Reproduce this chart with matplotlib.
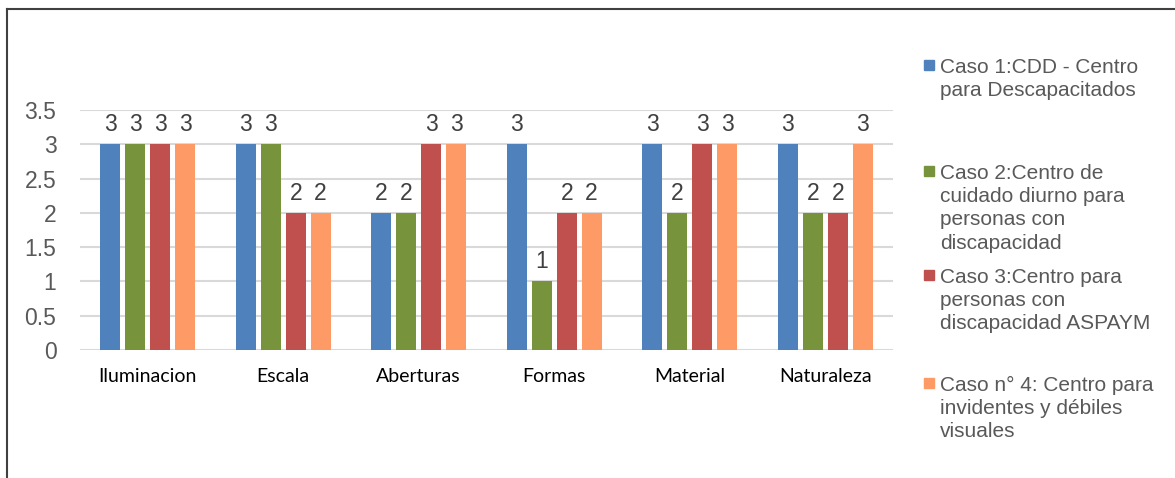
import numpy as np
import matplotlib
matplotlib.use("Agg")
from matplotlib import pyplot as plt
from matplotlib.patches import Rectangle
from matplotlib.lines import Line2D

categories = ["Iluminacion", "Escala", "Aberturas", "Formas", "Material", "Naturaleza"]
caso1 = [3, 3, 2, 3, 3, 3]
caso2 = [3, 3, 2, 1, 2, 2]
caso3 = [3, 2, 3, 2, 3, 2]
caso4 = [3, 2, 3, 2, 3, 3]
series_names = [
    "Caso 1:CDD - Centro\npara Descapacitados",
    "Caso 2:Centro de\ncuidado diurno para\npersonas con\ndiscapacidad",
    "Caso 3:Centro para\npersonas con\ndiscapacidad ASPAYM",
    "Caso n\u00b0 4: Centro para\ninvidentes y d\u00e9biles\nvisuales",
]
colors = ["#4F81BD", "#77933C", "#C0504D", "#FD9A65"]

W, H = 1175, 478
fig = plt.figure(figsize=(W / 100, H / 100), dpi=100)
ax = fig.add_axes([80 / W, 1 - 350 / H, (893 - 80) / W, (350 - 110) / H])

x = np.arange(len(categories))
width = 0.147
step = 0.184
all_series = [caso1, caso2, caso3, caso4]
for i, vals in enumerate(all_series):
    pos = x + (i - 1.5) * step
    bars = ax.bar(pos, vals, width=width, color=colors[i], zorder=3)
    for b, v in zip(bars, vals):
        ax.annotate(str(v), (b.get_x() + b.get_width() / 2, v),
                    xytext=(0, 6), textcoords="offset points",
                    ha="center", va="bottom", fontsize=16.5,
                    family="Liberation Sans", color="#404040")

ax.set_xlim(-0.5, len(categories) - 0.5)
ax.set_ylim(0, 3.5)
ax.set_yticks(np.arange(0, 3.51, 0.5))
ax.set_yticklabels(["0", "0.5", "1", "1.5", "2", "2.5", "3", "3.5"],
                   fontsize=16.5, family="Liberation Sans", color="#595959")
ax.set_xticks(x)
ax.set_xticklabels(categories, fontsize=14, family="Lato", color="#000000")
ax.tick_params(axis="both", length=0)
ax.tick_params(axis="x", pad=13)
ax.tick_params(axis="y", pad=17)
ax.grid(axis="y", color="#d9d9d9", linewidth=1.5, zorder=0)
for s in ax.spines.values():
    s.set_visible(False)

# legend drawn by hand so the entries keep their uneven spacing
legend_rows = [65, 171, 275, 383]
for name, c, yc in zip(series_names, colors, legend_rows):
    fig.patches.append(Rectangle((924 / W, 1 - (yc + 5) / H), 10 / W, 10 / H,
                                 transform=fig.transFigure, color=c))
    fig.text(940 / W, 1 - (yc - 7) / H, name, ha="left", va="top",
             fontsize=15, family="Liberation Sans", color="#595959",
             linespacing=1.28)

# outer frame (top and left edges)
fig.lines.append(Line2D([7 / W, 7 / W], [0, 1 - 9 / H], transform=fig.transFigure,
                        color="#404040", linewidth=1.5))
fig.lines.append(Line2D([7 / W, 1], [1 - 9 / H, 1 - 9 / H], transform=fig.transFigure,
                        color="#404040", linewidth=1.5))

fig.savefig("out.png", dpi=100)
